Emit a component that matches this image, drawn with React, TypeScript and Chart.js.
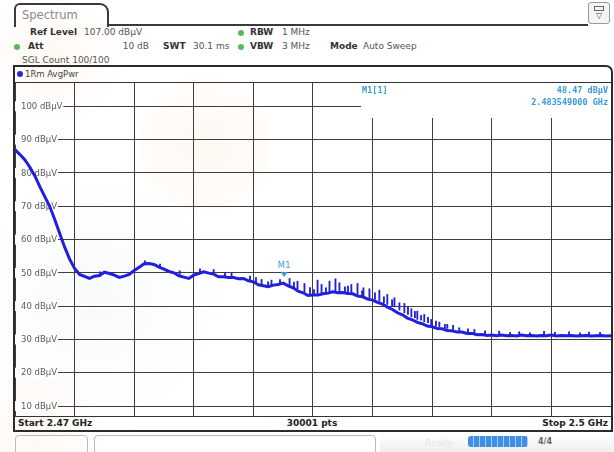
import React, { useEffect, useRef } from "react";
import { Chart, registerables } from "chart.js";

Chart.register(...registerables);

// ---- data ----
const START_GHZ = 2.47;
const STOP_GHZ = 2.5;
const REF_LEVEL = 107;
const BOTTOM_LEVEL = 7;
const SWEEP_STEP_GHZ = 0.00025;

const traceLevels = [
  87.0, 85.5, 83.9, 81.7, 79.1, 75.9, 72.9, 69.9, 66.0, 61.8,
  57.7, 54.1, 51.3, 49.5, 48.9, 48.3, 49.0, 49.2, 50.2, 49.8,
  49.3, 48.6, 49.0, 49.5, 50.7, 51.7, 52.7, 52.8, 52.5, 51.7,
  51.1, 50.4, 50.0, 49.1, 48.7, 48.3, 49.3, 49.8, 50.3, 49.9,
  49.6, 48.8, 48.8, 48.6, 48.6, 48.2, 48.3, 47.6, 47.3, 46.4,
  46.1, 45.8, 46.3, 46.5, 46.9, 46.1, 45.5, 44.5, 44.0, 43.2,
  43.3, 43.3, 43.7, 43.9, 44.3, 44.0, 44.1, 43.8, 43.7, 43.0,
  42.8, 42.1, 41.8, 41.1, 40.6, 39.7, 39.0, 38.0, 37.4, 36.4,
  35.9, 35.1, 34.7, 34.0, 33.8, 33.3, 33.2, 32.7, 32.6, 32.2,
  32.2, 31.8, 31.8, 31.4, 31.5, 31.2, 31.3, 31.1, 31.3, 31.1,
  31.2, 31.0, 31.3, 31.1, 31.2, 31.0, 31.2, 31.1, 31.3, 31.0,
  31.2, 31.1, 31.2, 31.0, 31.1, 31.2, 31.0, 31.1, 31.2, 31.0,
  31.1,
];

const spikeFreqs = [
  2.47829, 2.48, 2.4809, 2.48241, 2.48291, 2.48382, 2.48422, 2.48457,
  2.48523, 2.48543, 2.48583, 2.48613, 2.48633, 2.48693, 2.48724, 2.48754,
  2.48784, 2.48834, 2.48874, 2.4891, 2.48935, 2.4896, 2.48995, 2.49025,
  2.4906, 2.49095, 2.49136, 2.49176, 2.49236, 2.49312, 2.49437, 2.49538,
  2.49663, 2.49789, 2.49889,
  2.48183, 2.48213, 2.48274, 2.48334, 2.48404, 2.48485, 2.48505, 2.48565,
  2.48661, 2.48676, 2.48747, 2.48812, 2.48857, 2.48898, 2.48978, 2.49013,
  2.49044, 2.49079, 2.49119, 2.49164, 2.49205, 2.4928, 2.49366, 2.49492,
  2.49592, 2.49718, 2.49844, 2.49945,
  2.47428, 2.47654, 2.4773, 2.47931, 2.48057,
];
const spikeLows = [
  49.5, 49.6, 48.6, 46.2, 46.2, 46.0, 45.2, 44.3,
  43.3, 43.5, 43.8, 44.1, 44.1, 43.8, 43.4, 42.9,
  42.5, 41.5, 40.5, 39.8, 38.8, 38.0, 36.8, 36.0,
  35.3, 34.4, 33.7, 33.3, 32.6, 32.0, 31.3, 31.2,
  31.1, 31.2, 31.1,
  47.6, 47.2, 45.9, 46.6, 45.6, 43.3, 43.2, 43.7,
  44.0, 43.9, 43.1, 42.0, 41.0, 40.0, 37.5, 36.5,
  35.8, 35.0, 34.0, 33.5, 33.0, 32.3, 31.6, 31.2,
  31.1, 31.1, 31.2, 31.1,
  48.9, 52.4, 51.5, 49.8, 48.8,
];
const spikeHighs = [
  50.6, 51.0, 50.0, 48.0, 47.8, 48.3, 47.5, 46.8,
  47.8, 46.5, 47.5, 48.2, 47.0, 46.5, 46.8, 45.5,
  45.2, 44.8, 43.5, 42.5, 41.0, 40.8, 39.2, 38.5,
  37.5, 36.0, 35.2, 34.5, 33.5, 33.0, 32.5, 32.3,
  32.4, 32.3, 32.2,
  49.0, 48.6, 47.3, 48.0, 47.2, 45.6, 45.0, 45.5,
  45.8, 46.0, 44.6, 44.0, 42.8, 41.9, 39.6, 38.4,
  37.2, 36.6, 35.5, 34.5, 34.2, 33.2, 32.6, 32.1,
  32.0, 32.1, 32.0, 32.1,
  50.3, 53.6, 52.6, 51.2, 49.9,
];

const yTickValues = [10, 20, 30, 40, 50, 60, 70, 80, 90, 100];
const xGridValues = [
  2.47, 2.473, 2.476, 2.479, 2.482, 2.485, 2.488, 2.491, 2.494, 2.497, 2.5,
];

const markerFreq = 2.483549;
const markerLevel = 48.47;
const infoBoxStartGHz = 2.48742;

const TRACE_BLUE = "#2020dc";
const MARKER_BLUE = "#3a9ad9";

const labelPlugin = {
  id: "rsLabels",
  beforeDatasetsDraw(chart: any) {
    const { ctx, chartArea, scales } = chart;
    const xs = scales.x;
    const ys = scales.y;
    ctx.save();
    const bx = xs.getPixelForValue(infoBoxStartGHz);
    ctx.fillStyle = "#ffffff";
    ctx.fillRect(bx, chartArea.top, chartArea.right - bx, 35);
    ctx.font = '8.5px "DejaVu Sans"';
    ctx.textBaseline = "middle";
    for (const v of yTickValues) {
      const py = ys.getPixelForValue(v);
      const label = `${v} dB\u00B5V`;
      const w = ctx.measureText(label).width;
      ctx.fillStyle = "#ffffff";
      ctx.fillRect(chartArea.left, py - 5, 6 + w + 1, 10);
      ctx.fillStyle = "#5a5a5a";
      ctx.fillText(label, chartArea.left + 6, py + 0.5);
    }
    ctx.restore();
  },
  afterDraw(chart: any) {
    const { ctx, chartArea, scales } = chart;
    const xs = scales.x;
    const ys = scales.y;
    ctx.save();
    const bx = xs.getPixelForValue(infoBoxStartGHz);
    ctx.fillStyle = MARKER_BLUE;
    ctx.font = 'bold 8.5px "DejaVu Sans Mono"';
    ctx.textBaseline = "middle";
    ctx.textAlign = "left";
    ctx.fillText("M1[1]", bx + 1, chartArea.top + 8);
    ctx.textAlign = "right";
    ctx.fillText(`${markerLevel.toFixed(2)} dB\u00B5V`, chartArea.right - 3, chartArea.top + 8);
    ctx.fillText(`${markerFreq.toFixed(9)} GHz`, chartArea.right - 3, chartArea.top + 20);
    const mx = xs.getPixelForValue(markerFreq);
    const my = ys.getPixelForValue(markerLevel);
    ctx.beginPath();
    ctx.moveTo(mx - 3.5, my - 6);
    ctx.lineTo(mx + 3.5, my - 6);
    ctx.lineTo(mx, my - 1);
    ctx.closePath();
    ctx.fill();
    ctx.textAlign = "center";
    ctx.font = '8.5px "DejaVu Sans"';
    ctx.fillText("M1", mx, my - 12);
    ctx.restore();
  },
};

function SpectrumChart() {
  const canvasRef = useRef<HTMLCanvasElement | null>(null);
  useEffect(() => {
    if (!canvasRef.current) return;
    const tracePoints = traceLevels.map((lvl, i) => ({
      x: START_GHZ + i * SWEEP_STEP_GHZ,
      y: lvl,
    }));
    const spikePoints = spikeFreqs.map((f, i) => ({
      x: f,
      y: [spikeLows[i], spikeHighs[i]],
    }));
    const chart = new Chart(canvasRef.current, {
      type: "line",
      data: {
        datasets: [
          {
            type: "line",
            data: tracePoints,
            borderColor: TRACE_BLUE,
            borderWidth: 3,
            pointRadius: 0,
            tension: 0,
            order: 1,
          } as any,
          {
            type: "bar",
            data: spikePoints,
            backgroundColor: TRACE_BLUE,
            barThickness: 1.2,
            order: 2,
          } as any,
        ],
      },
      options: {
        responsive: false,
        maintainAspectRatio: false,
        animation: false,
        layout: { padding: 0 },
        plugins: { legend: { display: false }, tooltip: { enabled: false } },
        scales: {
          x: {
            type: "linear",
            min: START_GHZ,
            max: STOP_GHZ,
            offset: false,
            afterBuildTicks: (axis: any) => {
              axis.ticks = xGridValues.map((v) => ({ value: v }));
            },
            ticks: { display: false },
            grid: { color: "#3e3e3e", lineWidth: 1, drawTicks: false, offset: false },
            border: { display: false },
          },
          y: {
            type: "linear",
            min: BOTTOM_LEVEL,
            max: REF_LEVEL,
            afterBuildTicks: (axis: any) => {
              axis.ticks = yTickValues.map((v) => ({ value: v }));
            },
            ticks: { display: false },
            grid: { color: "#3e3e3e", lineWidth: 1, drawTicks: false },
            border: { display: false },
          },
        },
      } as any,
      plugins: [labelPlugin],
    });
    return () => chart.destroy();
  }, []);
  return (
    <canvas
      ref={canvasRef}
      width={596}
      height={333}
      style={{ position: "absolute", left: 15, top: 83, width: 596, height: 333 }}
    />
  );
}

const txt = (
  left: number,
  cy: number,
  content: string,
  opts: { bold?: boolean; size?: number; color?: string; align?: "left" | "right" | "center" } = {}
) => {
  const size = opts.size ?? 9;
  const style: React.CSSProperties = {
    position: "absolute",
    top: cy - 7,
    height: 14,
    lineHeight: "14px",
    fontSize: size,
    fontWeight: opts.bold ? "bold" : "normal",
    color: opts.color ?? "#333",
    whiteSpace: "nowrap",
  };
  if (opts.align === "right") {
    style.right = 614 - left;
  } else if (opts.align === "center") {
    style.left = left - 100;
    style.width = 200;
    style.textAlign = "center";
  } else {
    style.left = left;
  }
  return <div style={style}>{content}</div>;
};

const Dot = ({ x, y, color }: { x: number; y: number; color: string }) => (
  <div
    style={{
      position: "absolute",
      left: x - 3,
      top: y - 3,
      width: 6,
      height: 6,
      borderRadius: 3,
      background: color,
    }}
  />
);

export default function App() {
  useEffect(() => {
    document.body.style.margin = "0";
  }, []);
  return (
    <div
      style={{
        position: "relative",
        width: 614,
        height: 452,
        overflow: "hidden",
        background: "#ffffff",
        fontFamily: '"DejaVu Sans", sans-serif',
      }}
    >
      {/* faint watermark */}
      <div style={{ position: "absolute", left: 140, top: 70, width: 130, height: 150, borderRadius: "50%", background: "radial-gradient(circle, rgba(252,232,212,0.3) 0%, rgba(252,232,212,0.15) 60%, rgba(252,232,212,0) 72%)" }} />
      <div style={{ position: "absolute", left: -40, top: 0, width: 180, height: 120, borderRadius: "50%", background: "radial-gradient(circle, rgba(252,232,212,0.3) 0%, rgba(252,232,212,0) 70%)" }} />
      <div style={{ position: "absolute", left: -30, top: 150, width: 250, height: 300, borderRadius: "50%", background: "radial-gradient(circle, rgba(230,234,242,0.25) 0%, rgba(230,234,242,0) 70%)" }} />
      <div style={{ position: "absolute", left: -40, top: 360, width: 150, height: 140, borderRadius: "50%", background: "radial-gradient(circle, rgba(252,232,212,0.3) 0%, rgba(252,232,212,0) 70%)" }} />

      {/* tab */}
      <div
        style={{
          position: "absolute",
          left: 14,
          top: 3,
          width: 95,
          height: 24,
          border: "2px solid #3a3a3a",
          borderBottom: "none",
          borderRadius: "6px 9px 0 0",
          boxSizing: "border-box",
        }}
      />
      {txt(22, 15, "Spectrum", { size: 11.5, color: "#8a8a8a" })}
      <div style={{ position: "absolute", left: 107, top: 24, width: 481, height: 2, background: "#3a3a3a" }} />
      <div
        style={{
          position: "absolute",
          left: 588,
          top: 2,
          width: 22,
          height: 22,
          border: "1px solid #9a9a9a",
          borderRadius: 3,
          boxSizing: "border-box",
          background: "#f4f4f4",
        }}
      >
        <div style={{ position: "absolute", left: 5, top: 3, width: 10, height: 5, border: "1px solid #666", boxSizing: "border-box" }} />
        <div style={{ position: "absolute", left: 0, top: 8, width: 20, textAlign: "center", fontSize: 8, lineHeight: "10px", color: "#555" }}>{"\u25BD"}</div>
      </div>

      {/* header */}
      {txt(30, 32, "Ref Level", { bold: true })}
      {txt(84, 32, "107.00 dB\u00B5V", { color: "#555" })}
      <Dot x={241} y={33} color="#5cb85c" />
      {txt(250, 32, "RBW", { bold: true })}
      {txt(282, 32, "1 MHz", { color: "#555" })}

      <Dot x={17} y={47} color="#5cb85c" />
      {txt(28, 46, "Att", { bold: true })}
      {txt(149, 46, "10 dB", { color: "#555", align: "right" })}
      {txt(163, 46, "SWT", { bold: true })}
      {txt(193, 46, "30.1 ms", { color: "#555" })}
      <Dot x={241} y={47} color="#5cb85c" />
      {txt(250, 46, "VBW", { bold: true })}
      {txt(282, 46, "3 MHz", { color: "#555" })}
      {txt(330, 46, "Mode", { bold: true })}
      {txt(363, 46, "Auto Sweep", { color: "#555" })}

      {txt(22, 60, "SGL Count 100/100", { color: "#555" })}

      {/* frame */}
      <div
        style={{
          position: "absolute",
          left: 13,
          top: 65,
          width: 600,
          height: 367,
          border: "2px solid #2b2b2b",
          borderTopRightRadius: 7,
          boxSizing: "border-box",
        }}
      />
      <Dot x={20} y={74} color="#2a2acc" />
      {txt(25, 73.5, "1Rm AvgPwr", { color: "#444", size: 8.5 })}
      <div style={{ position: "absolute", left: 15, top: 82, width: 596, height: 1, background: "#333" }} />

      <SpectrumChart />

      <div style={{ position: "absolute", left: 15, top: 416, width: 596, height: 1, background: "#333" }} />
      {txt(18, 423, "Start 2.47 GHz", { bold: true, color: "#222" })}
      {txt(312, 423, "30001 pts", { bold: true, color: "#222", align: "center" })}
      {txt(608, 423, "Stop 2.5 GHz", { bold: true, color: "#222", align: "right" })}

      {/* status bar */}
      <div style={{ position: "absolute", left: 15, top: 435, width: 73, height: 24, border: "1px solid #bbb", borderRadius: 4, boxSizing: "border-box" }} />
      <div style={{ position: "absolute", left: 94, top: 435, width: 282, height: 24, border: "1px solid #bbb", borderRadius: 4, boxSizing: "border-box" }} />
      <div style={{ position: "absolute", left: 380, top: 434, width: 234, height: 18, background: "linear-gradient(#ffffff, #eeeeee)" }} />
      {txt(425, 443, "Ready", { color: "#e6e6e6", size: 9 })}
      <div
        style={{
          position: "absolute",
          left: 468,
          top: 436,
          width: 60,
          height: 11,
          borderRadius: 3,
          background:
            "repeating-linear-gradient(90deg, #3f8fe6 0px, #3f8fe6 5px, #a8cdf5 5px, #a8cdf5 6px)",
        }}
      />
      {txt(538, 442, "4/4", { color: "#666", size: 8, bold: true })}
    </div>
  );
}
